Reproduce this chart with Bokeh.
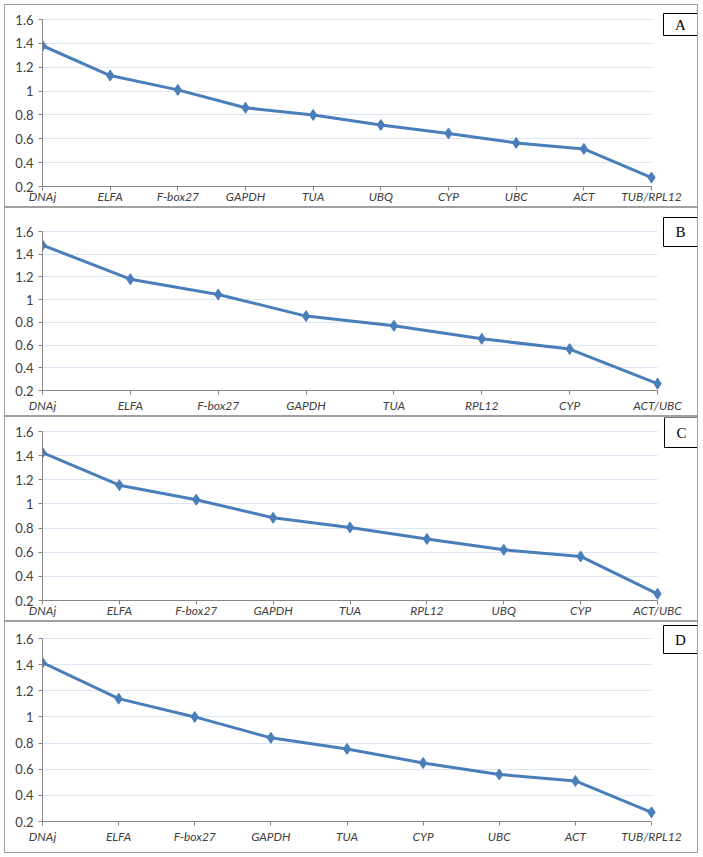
from bokeh.plotting import figure
from bokeh.layouts import column
from bokeh.models import FixedTicker, Label, Range1d
from bokeh.embed import file_html
from bokeh.resources import INLINE

cats_a = ["DNAj", "ELFA", "F-box27", "GAPDH", "TUA", "UBQ", "CYP", "UBC", "ACT", "TUB/RPL12"]
vals_a = [1.38, 1.13, 1.01, 0.86, 0.80, 0.715, 0.645, 0.565, 0.515, 0.275]
cats_b = ["DNAj", "ELFA", "F-box27", "GAPDH", "TUA", "RPL12", "CYP", "ACT/UBC"]
vals_b = [1.48, 1.18, 1.045, 0.855, 0.77, 0.655, 0.565, 0.26]
cats_c = ["DNAj", "ELFA", "F-box27", "GAPDH", "TUA", "RPL12", "UBQ", "CYP", "ACT/UBC"]
vals_c = [1.425, 1.155, 1.035, 0.885, 0.805, 0.71, 0.62, 0.565, 0.255]
cats_d = ["DNAj", "ELFA", "F-box27", "GAPDH", "TUA", "CYP", "UBC", "ACT", "TUB/RPL12"]
vals_d = [1.415, 1.14, 1.0, 0.84, 0.755, 0.648, 0.56, 0.51, 0.27]
panel_letters = ["A", "B", "C", "D"]
y_ticks = [0.2, 0.4, 0.6, 0.8, 1.0, 1.2, 1.4, 1.6]
y_tick_labels = ["0.2", "0.4", "0.6", "0.8", "1", "1.2", "1.4", "1.6"]

LINE = "#4a7ebb"
AXIS = "#868686"
GRID = "#dce6f2"
TXT = "#404040"
FIG_W = 692
LEFT = 37
BOX_W = 34


def make_panel(cats, vals, letter, height, top_gap, bottom, standoff, last_px,
               box_dx, box_dy, box_h):
    """top_gap: px from figure top to the 1.6 line; bottom: px under the 0.2 line;
    last_px: px from frame left to the last category; box_dx/box_dy: box centre
    offset in px from (last category, 1.6)."""
    n = len(cats)
    xs = list(range(n))
    frame_w = FIG_W - LEFT
    x_ppu = last_px / (n - 1)
    x_end = (n - 1) + (frame_w - last_px) / x_ppu
    frame_h = height - bottom
    y_ppu = (frame_h - top_gap) / 1.4
    y_end = 1.6 + top_gap / y_ppu

    p = figure(width=FIG_W, height=height, output_backend="svg", toolbar_location=None,
               x_range=Range1d(0, x_end), y_range=Range1d(0.2, y_end),
               min_border_left=LEFT, min_border_right=0,
               min_border_top=0, min_border_bottom=bottom,
               background_fill_color="white", border_fill_color="white",
               styles={"box-shadow": "0 0 0 1px #a0a0a0"})
    p.outline_line_color = None
    p.xgrid.visible = False
    p.ygrid.ticker = FixedTicker(ticks=y_ticks)
    p.ygrid.grid_line_color = GRID
    p.ygrid.grid_line_width = 1
    g = p.ygrid[0]
    if "cross_bounds" in g.properties():
        g.cross_bounds = (0, n - 1)

    p.xaxis.ticker = FixedTicker(ticks=xs)
    p.xaxis.bounds = (0, n - 1)
    p.xaxis.major_label_overrides = {i: c for i, c in zip(xs, cats)}
    p.xaxis.major_label_text_font_style = "italic"
    p.yaxis.ticker = FixedTicker(ticks=y_ticks)
    p.yaxis.bounds = (0.2, 1.6)
    p.yaxis.major_label_overrides = {t: s for t, s in zip(y_ticks, y_tick_labels)}
    for ax in (p.xaxis, p.yaxis):
        ax.axis_line_color = AXIS
        ax.major_tick_line_color = AXIS
        ax.minor_tick_line_color = None
        ax.major_tick_in = 0
        ax.major_tick_out = 4
        ax.major_label_text_font = "Lato"
        ax.major_label_text_color = TXT
    p.xaxis.major_label_text_font_size = "12px"
    p.yaxis.major_label_text_font_size = "13px"
    p.xaxis.major_label_standoff = standoff
    p.yaxis.major_label_standoff = 5

    p.line(xs, vals, line_color=LINE, line_width=3)
    p.scatter(xs, vals, marker="diamond", size=11, fill_color=LINE, line_color=LINE)

    cx = (n - 1) + box_dx / x_ppu
    cy = 1.6 - box_dy / y_ppu
    p.rect(x=[cx], y=[cy], width=BOX_W, height=box_h, width_units="screen",
           height_units="screen", fill_color="white", line_color="black", line_width=1)
    p.add_layout(Label(x=cx, y=cy, text=letter, text_align="center", text_baseline="middle",
                       text_font="Liberation Serif", text_font_size="15px",
                       text_color="black"))
    return p


pa = make_panel(cats_a, vals_a, panel_letters[0], 201, 14, 20, -2, 609, 29, 5, 22)
pb = make_panel(cats_b, vals_b, panel_letters[1], 207, 23, 25, 3, 615, 23, 0.5, 29)
pc = make_panel(cats_c, vals_c, panel_letters[2], 203, 14, 20, -2, 615, 24, 1, 30)
pd = make_panel(cats_d, vals_d, panel_letters[3], 230, 16, 31, 3, 609, 29, 1, 28)

layout = column(pa, pb, pc, pd, spacing=2,
                styles={"margin-left": "5px", "margin-top": "5px"})

open("out.html", "w").write(file_html(layout, INLINE))
